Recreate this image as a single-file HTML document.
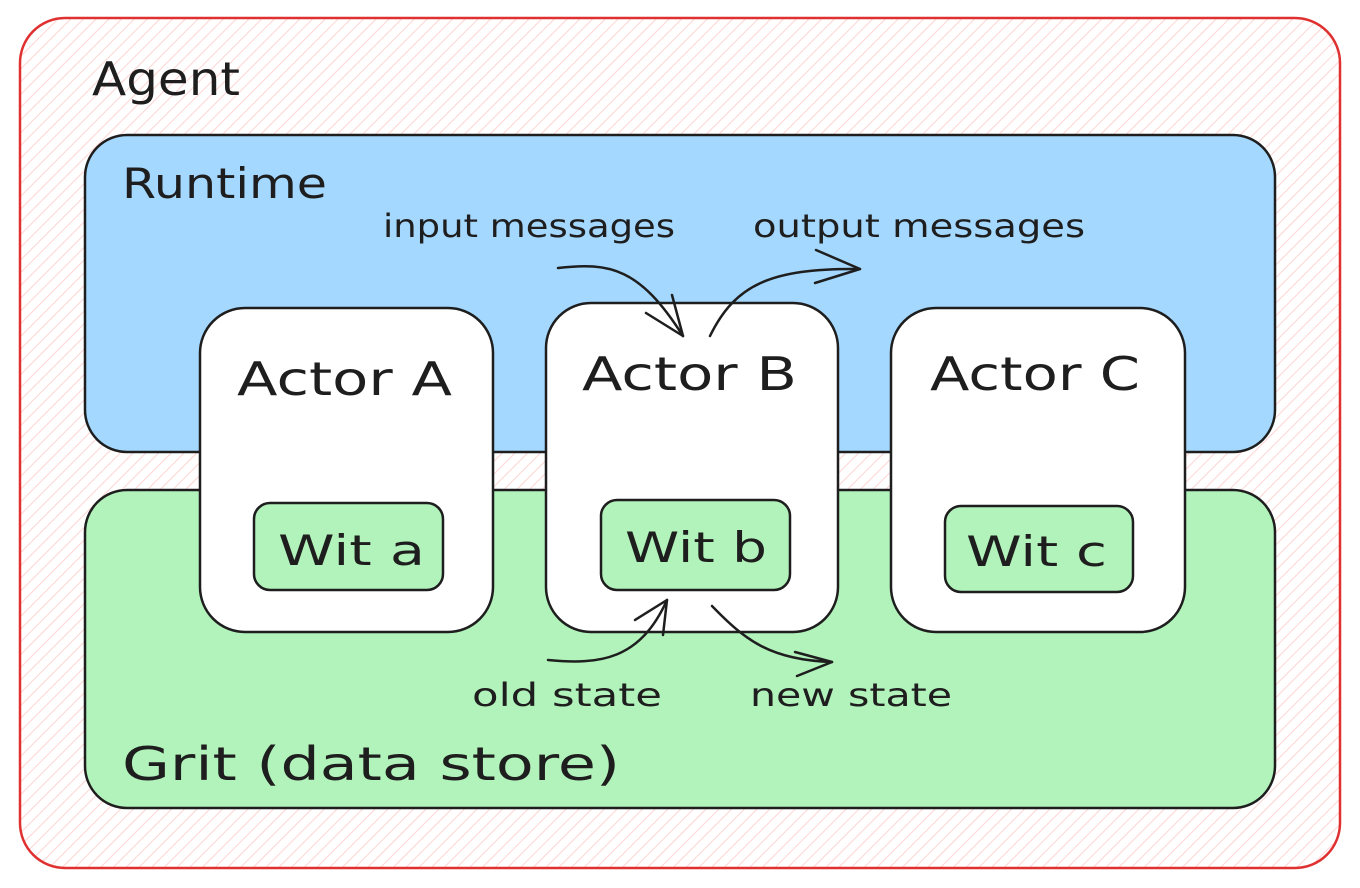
<!DOCTYPE html>
<html><head><meta charset="utf-8"><style>
html,body{margin:0;padding:0;background:#fff;}
svg{display:block;}
text{font-family:"DejaVu Sans","Liberation Sans",sans-serif;fill:#1e1e1e;}
</style></head><body>
<svg width="1360" height="888" viewBox="0 0 1360 888" xmlns="http://www.w3.org/2000/svg">
<defs>
<pattern id="h" patternUnits="userSpaceOnUse" width="9" height="9" patternTransform="rotate(45)">
<line x1="0" y1="0" x2="0" y2="9" stroke="#ffc9c9" stroke-width="1.6"/>
</pattern>
</defs>
<rect x="20" y="18" width="1320" height="850" rx="45" fill="url(#h)" stroke="#e03131" stroke-width="2.5"/>
<rect x="85" y="135" width="1190" height="317" rx="42" fill="#a5d8ff" stroke="#1e1e1e" stroke-width="2.5"/>
<rect x="85" y="490" width="1190" height="318" rx="42" fill="#b2f2bb" stroke="#1e1e1e" stroke-width="2.5"/>
<rect x="200" y="308" width="293" height="324" rx="45" fill="#fff" stroke="#1e1e1e" stroke-width="2.5"/>
<rect x="546" y="303" width="292" height="329" rx="45" fill="#fff" stroke="#1e1e1e" stroke-width="2.5"/>
<rect x="891" y="308" width="294" height="324" rx="45" fill="#fff" stroke="#1e1e1e" stroke-width="2.5"/>
<rect x="254" y="503" width="189" height="87" rx="16" fill="#b2f2bb" stroke="#1e1e1e" stroke-width="2.5"/>
<rect x="601" y="500" width="189" height="90" rx="16" fill="#b2f2bb" stroke="#1e1e1e" stroke-width="2.5"/>
<rect x="945" y="506" width="188" height="86" rx="16" fill="#b2f2bb" stroke="#1e1e1e" stroke-width="2.5"/>
<g fill="none" stroke="#1e1e1e" stroke-width="2.5" stroke-linecap="round">
<path d="M558 268 C610 262 640 268 683 336"/>
<path d="M683 336 L646 313 M683 336 L672 295"/>
<path d="M710 336 C735 285 770 268 860 269"/>
<path d="M860 269 L816 250 M860 269 L815 283"/>
<path d="M548 660 C600 665 640 660 667 600"/>
<path d="M667 600 L635 620 M667 600 L663 635"/>
<path d="M712 606 C745 640 770 660 832 662"/>
<path d="M832 662 L795 652 M832 662 L797 676"/>
</g>
<text x="92" y="95" font-size="46" textLength="148" lengthAdjust="spacingAndGlyphs">Agent</text>
<text x="122" y="198" font-size="42" textLength="205" lengthAdjust="spacingAndGlyphs">Runtime</text>
<text x="383" y="237" font-size="32" textLength="292" lengthAdjust="spacingAndGlyphs">input messages</text>
<text x="753" y="237" font-size="32" textLength="332" lengthAdjust="spacingAndGlyphs">output messages</text>
<text x="237" y="395" font-size="46" textLength="215" lengthAdjust="spacingAndGlyphs">Actor A</text>
<text x="582" y="390" font-size="46" textLength="215" lengthAdjust="spacingAndGlyphs">Actor B</text>
<text x="930" y="390" font-size="46" textLength="210" lengthAdjust="spacingAndGlyphs">Actor C</text>
<text x="278" y="565" font-size="42" textLength="147" lengthAdjust="spacingAndGlyphs">Wit a</text>
<text x="625" y="562" font-size="42" textLength="142" lengthAdjust="spacingAndGlyphs">Wit b</text>
<text x="966" y="566" font-size="42" textLength="141" lengthAdjust="spacingAndGlyphs">Wit c</text>
<text x="472" y="706" font-size="32" textLength="190" lengthAdjust="spacingAndGlyphs">old state</text>
<text x="750" y="706" font-size="32" textLength="202" lengthAdjust="spacingAndGlyphs">new state</text>
<text x="122" y="780" font-size="46" textLength="498" lengthAdjust="spacingAndGlyphs">Grit (data store)</text>
</svg>
</body></html>
